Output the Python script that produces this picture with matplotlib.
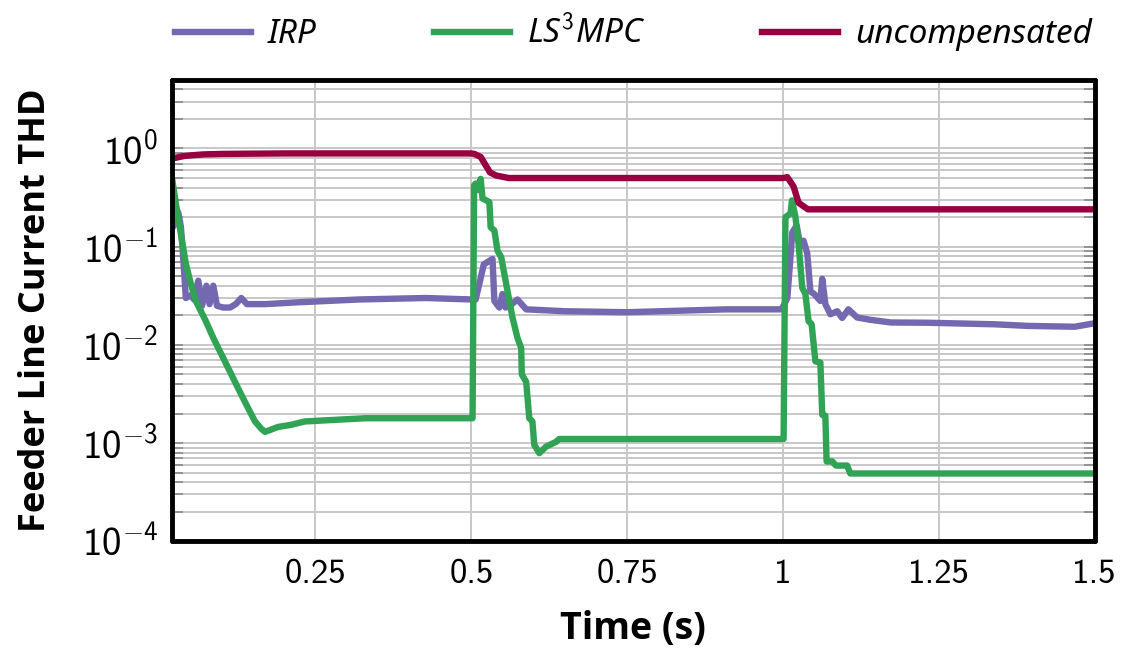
import numpy as np
import matplotlib
matplotlib.use('Agg')
import matplotlib.pyplot as plt
from matplotlib.ticker import FixedLocator, LogLocator, NullFormatter

# time (s) / THD readings
t_unc = [0.02, 0.04, 0.07, 0.10, 0.20, 0.50, 0.505, 0.515, 0.53, 0.54, 0.56,
         1.00, 1.007, 1.017, 1.025, 1.04, 1.50]
thd_unc = [0.79, 0.84, 0.87, 0.88, 0.89, 0.89, 0.88, 0.82, 0.57, 0.53, 0.50,
           0.50, 0.51, 0.41, 0.28, 0.24, 0.24]

t_irp = [0.02, 0.022, 0.026, 0.030, 0.034, 0.037, 0.042, 0.050, 0.055, 0.062,
         0.068, 0.075, 0.080, 0.086, 0.092, 0.102, 0.113, 0.122, 0.131, 0.140,
         0.150, 0.170, 0.215, 0.32, 0.427, 0.50, 0.507, 0.514, 0.520, 0.534,
         0.537, 0.545, 0.550, 0.555, 0.565, 0.574, 0.588, 0.65, 0.75, 0.91,
         0.998, 1.007, 1.015, 1.022, 1.028, 1.033, 1.039, 1.044, 1.050, 1.060,
         1.063, 1.068, 1.076, 1.087, 1.095, 1.105, 1.119, 1.14, 1.173, 1.232,
         1.34, 1.393, 1.468, 1.50]
thd_irp = [0.37, 0.16, 0.25, 0.22, 0.16, 0.091, 0.030, 0.032, 0.029, 0.045,
           0.025, 0.040, 0.026, 0.040, 0.025, 0.024, 0.024, 0.026, 0.030, 0.026,
           0.026, 0.026, 0.027, 0.029, 0.030, 0.029, 0.029, 0.045, 0.066, 0.075,
           0.028, 0.024, 0.033, 0.024, 0.026, 0.029, 0.023, 0.022, 0.0215, 0.023,
           0.023, 0.030, 0.14, 0.164, 0.10, 0.115, 0.085, 0.035, 0.033, 0.028,
           0.047, 0.026, 0.0205, 0.022, 0.0188, 0.023, 0.019, 0.018, 0.0169, 0.0168,
           0.0162, 0.0156, 0.0153, 0.0166]

t_ls3 = [0.02, 0.027, 0.034, 0.042, 0.050, 0.058, 0.074, 0.086, 0.094, 0.11,
         0.126, 0.142, 0.153, 0.163, 0.169, 0.19, 0.21, 0.233, 0.33, 0.502,
         0.5045, 0.507, 0.513, 0.515, 0.518, 0.529, 0.531, 0.537, 0.542, 0.548,
         0.555, 0.566, 0.574, 0.580, 0.581, 0.588, 0.593, 0.598, 0.601, 0.609,
         0.62, 0.636, 0.641, 1.001, 1.004, 1.012, 1.0145, 1.020, 1.025, 1.031,
         1.036, 1.041, 1.046, 1.052, 1.060, 1.063, 1.068, 1.070, 1.079, 1.085,
         1.103, 1.108, 1.50]
thd_ls3 = [0.49, 0.25, 0.135, 0.067, 0.042, 0.028, 0.0175, 0.0118, 0.0093, 0.0058,
           0.0036, 0.00226, 0.00166, 0.0014, 0.0013, 0.00146, 0.00153, 0.00166, 0.00179, 0.00179,
           0.42, 0.44, 0.375, 0.49, 0.31, 0.284, 0.158, 0.146, 0.091, 0.078,
           0.045, 0.019, 0.0118, 0.0093, 0.005, 0.0042, 0.00179, 0.00166, 0.00096, 0.00079,
           0.00092, 0.00103, 0.0011, 0.0011, 0.2, 0.217, 0.296, 0.2, 0.107, 0.038,
           0.033, 0.0175, 0.0162, 0.0068, 0.0066, 0.00194, 0.0019, 0.00065, 0.00065, 0.00059,
           0.00059, 0.00049, 0.00049]

x_ticks = [0.25, 0.5, 0.75, 1.0, 1.25, 1.5]
x_ticklabels = ['0.25', '0.5', '0.75', '1', '1.25', '1.5']
y_ticks = [1e-4, 1e-3, 1e-2, 1e-1, 1e0]
y_ticklabels = [r'$10^{-4}$', r'$10^{-3}$', r'$10^{-2}$', r'$10^{-1}$', r'$10^{0}$']

plt.rcParams['mathtext.fontset'] = 'custom'
plt.rcParams['mathtext.rm'] = 'cmss10'
plt.rcParams['mathtext.it'] = 'cmss10'
plt.rcParams['mathtext.fallback'] = 'cm'
plt.rcParams['axes.unicode_minus'] = False

fig = plt.figure(figsize=(11.25, 6.49), dpi=100)
ax = fig.add_axes([0.153, 0.166, 0.820, 0.711])

ax.plot(t_irp, thd_irp, color='#7468b0', lw=4.6, label='IRP', solid_joinstyle='round')
ax.plot(t_ls3, thd_ls3, color='#30a354', lw=4.6, label=r'LS$^3$MPC', solid_joinstyle='round')
ax.plot(t_unc, thd_unc, color='#99003f', lw=4.6, label='uncompensated', solid_joinstyle='round')

ax.set_yscale('log')
ax.set_xlim(0.02, 1.5)
ax.set_ylim(1e-4, 5)

ax.xaxis.set_major_locator(FixedLocator(x_ticks))
ax.set_xticklabels(x_ticklabels, fontfamily='cmss10', fontsize=25)
ax.yaxis.set_major_locator(FixedLocator(y_ticks))
ax.set_yticklabels(y_ticklabels, fontsize=28)
ax.yaxis.set_minor_locator(LogLocator(base=10, subs=np.arange(2, 10)))
ax.yaxis.set_minor_formatter(NullFormatter())

ax.grid(True, which='major', color='#c8c8c8', lw=1.4)
ax.grid(True, which='minor', axis='y', color='#c8c8c8', lw=1.4)
ax.tick_params(axis='x', which='both', length=0, pad=13)
ax.tick_params(axis='y', which='both', direction='in', color='#8a8a8a', right=True,
               length=8, width=1.2, pad=10)
for sp in ax.spines.values():
    sp.set_linewidth(3.5)
    sp.set_color('black')
    sp.set_capstyle('round')

ax.set_xlabel('Time (s)', fontfamily='Open Sans', fontweight='bold', fontsize=27, labelpad=14)
ax.set_ylabel('Feeder Line Current THD', fontfamily='Open Sans', fontweight='bold',
              fontsize=26, labelpad=20)

leg = ax.legend(loc='lower center', bbox_to_anchor=(0.5, 1.0), ncol=3, frameon=False,
                handlelength=2.3, columnspacing=3.5, handletextpad=0.5, borderaxespad=0.45,
                prop={'family': 'Noto Sans', 'style': 'italic', 'size': 24})

fig.savefig('out.png', dpi=100)
